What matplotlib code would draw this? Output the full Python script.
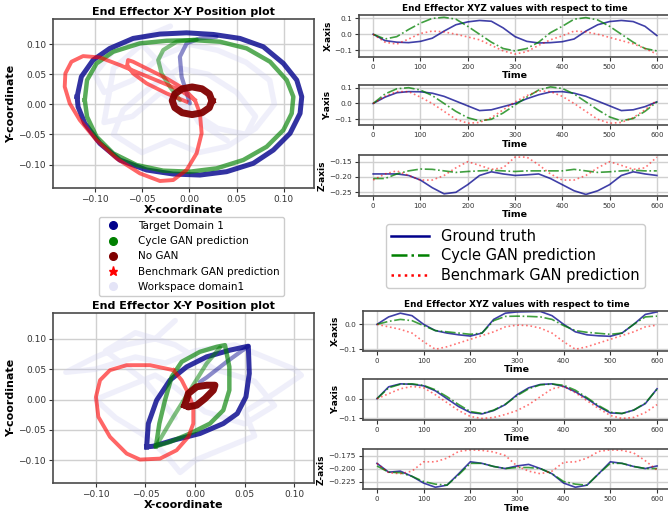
import matplotlib
matplotlib.use("Agg")
import matplotlib.pyplot as plt
from matplotlib.lines import Line2D

# ---------------- DATA ----------------
# Top-left XY (domain 1, first trajectory)
tgt1_x = [-0.1185, -0.114, -0.1016, -0.084, -0.0593, -0.031, -0.0028, 0.0254, 0.0536, 0.0783, 0.0995, 0.1136, 0.1189,
          0.1171, 0.1065, 0.0889, 0.0677, 0.0395, 0.0113, -0.0169, -0.0451, -0.0734, -0.0945, -0.1104, -0.1175, -0.1185]
tgt1_y = [0.0127, 0.046, 0.0737, 0.093, 0.1097, 0.1169, 0.119, 0.1163, 0.1097, 0.0958, 0.0681, 0.0404, 0.0127,
          -0.015, -0.0482, -0.0759, -0.098, -0.1119, -0.1175, -0.1158, -0.1091, -0.0925, -0.0648, -0.0316, -0.0039, 0.0127]
tgt1_hook_x = [0.0007, -0.0081, -0.0099, -0.0028, 0.0113, 0.0289]
tgt1_hook_y = [0.0017, 0.046, 0.0792, 0.1014, 0.1097, 0.1125]

cyc1_x = [-0.1104, -0.108, -0.098, -0.0804, -0.0522, -0.024, 0.0042, 0.0325, 0.0607, 0.0854, 0.103, 0.11, 0.1083,
          0.0995, 0.0818, 0.0571, 0.0289, 0.0007, -0.0275, -0.0557, -0.0804, -0.098, -0.108, -0.1104]
cyc1_y = [0.0072, 0.0404, 0.068, 0.0875, 0.1014, 0.1058, 0.1069, 0.1042, 0.0931, 0.0709, 0.0404, 0.0127, -0.015,
          -0.0427, -0.0704, -0.0925, -0.1064, -0.1119, -0.1102, -0.1008, -0.0814, -0.0537, -0.0205, 0.0072]
cyc1_hook_x = [-0.0099, -0.0205, -0.0293, -0.0328, -0.0275, -0.0134, 0.0078]
cyc1_hook_y = [0.0072, 0.0294, 0.0515, 0.0737, 0.0903, 0.1042, 0.108]

bench1_x = [0.006, -0.0099, -0.031, -0.0522, -0.0734, -0.0945, -0.1122, -0.1245, -0.1309, -0.1316, -0.1263, -0.1157,
            -0.0981, -0.0769, -0.0522, -0.031, -0.0169, -0.0028, 0.0078, 0.0131, 0.0113, 0.006,
            -0.0063, -0.024, -0.0452, -0.0593, -0.0646, -0.0656, -0.0593, -0.0451, -0.024, -0.0028]
bench1_y = [0.0072, 0.0238, 0.0377, 0.0515, 0.0654, 0.0781, 0.0803, 0.0709, 0.0515, 0.0294, 0.0017, -0.026,
            -0.0593, -0.0898, -0.1147, -0.1274, -0.1258, -0.1091, -0.0814, -0.0482, -0.015, 0.0072,
            0.0266, 0.0432, 0.0598, 0.0709, 0.0737, 0.0654, 0.0515, 0.0349, 0.0183, 0.0044]

nogan1_x = [0.024, 0.0212, 0.0135, 0.003, -0.0075, -0.0152, -0.018, -0.0152, -0.0075, 0.003, 0.0135, 0.0212, 0.024]
nogan1_y = [0.006, 0.0175, 0.0259, 0.029, 0.0259, 0.0175, 0.006, -0.0055, -0.0139, -0.017, -0.0139, -0.0055, 0.006]

ws1_x = [-0.02, -0.05, -0.08, -0.1, -0.09, -0.06, -0.03, 0.0, 0.03, 0.06, 0.085, 0.09, 0.07, 0.04, 0.01, -0.02, -0.05,
         -0.08, -0.07, -0.04, -0.01, 0.02, 0.05, 0.07, 0.06, 0.03, 0.0, -0.03, -0.06, -0.09, -0.08, -0.05, -0.02, 0.01, 0.04]
ws1_y = [0.13, 0.11, 0.09, 0.05, 0.02, 0.04, 0.08, 0.1, 0.09, 0.07, 0.04, 0.0, -0.04, -0.07, -0.08, -0.06, -0.08,
         -0.05, -0.01, 0.03, 0.06, 0.05, 0.02, -0.02, -0.05, -0.04, -0.01, 0.02, -0.02, -0.03, 0.06, 0.1, 0.05, -0.03, -0.06]

# Bottom-left XY (second trajectory)
tgt2_x = [-0.0487, -0.047, -0.0386, -0.0252, -0.0084, 0.0117, 0.0352, 0.0537, 0.0547, 0.0513, 0.0426, 0.0285, 0.005,
          -0.0218, -0.042, -0.0487]
tgt2_y = [-0.078, -0.0396, -0.0011, 0.0319, 0.0538, 0.0703, 0.0813, 0.0879, 0.0429, 0.0044, -0.0231, -0.0396, -0.056,
          -0.067, -0.0769, -0.078]
tgt2_diag_x = [0.0537, 0.0319, 0.0117, 0.005]
tgt2_diag_y = [0.0879, 0.0621, 0.0363, 0.029]

cyc2_x = [-0.0393, -0.0359, -0.0302, -0.0235, -0.0134, 0.005, 0.0218, 0.0302, 0.0346, 0.0346, 0.0285, 0.0151, -0.005,
          -0.0252, -0.0393]
cyc2_y = [-0.0769, -0.0396, -0.0011, 0.0374, 0.0621, 0.0786, 0.0868, 0.0896, 0.0538, 0.0154, -0.0176, -0.0396, -0.056,
          -0.0698, -0.0769]
cyc2_diag_x = [-0.0393, -0.0218, -0.005, 0.0117, 0.0252]
cyc2_diag_y = [-0.0769, -0.0286, 0.0154, 0.0593, 0.0857]

bench2_x = [-0.0218, -0.0453, -0.0688, -0.0856, -0.0956, -0.0997, -0.0973, -0.0856, -0.0688, -0.0554, -0.0352, -0.0185,
            -0.0067, -0.0017, -0.0017, -0.0067, -0.0134, -0.0218]
bench2_y = [0.0484, 0.0566, 0.0566, 0.0484, 0.0319, 0.0044, -0.0286, -0.0615, -0.089, -0.0989, -0.0973, -0.0835,
            -0.0615, -0.0396, -0.0121, 0.0099, 0.0319, 0.0484]

nogan2_x = [-0.0101, -0.0067, 0.0017, 0.0117, 0.0201, 0.0185, 0.0101, 0.0017, -0.0067, -0.0101]
nogan2_y = [-0.0093, 0.0099, 0.0209, 0.0236, 0.0236, 0.0154, 0.0016, -0.0093, -0.0121, -0.0093]

ws2_x = [-0.02, -0.04, -0.07, -0.1, -0.13, -0.1, -0.06, -0.03, 0.0, 0.04, 0.07, 0.1, 0.107, 0.08, 0.05, 0.06, 0.03, 0.0,
         -0.015, -0.03, -0.05, -0.08, -0.1, -0.07, -0.04, -0.02, 0.01, 0.05, 0.08, 0.06, 0.02, -0.02, -0.06, -0.09, -0.05, -0.02]
ws2_y = [0.13, 0.1, 0.09, 0.07, 0.045, 0.05, 0.07, 0.06, 0.08, 0.09, 0.07, 0.05, 0.04, 0.01, -0.02, -0.06, -0.08, -0.1,
         -0.12, -0.09, -0.06, -0.03, 0.0, 0.02, 0.04, 0.02, -0.02, -0.04, -0.01, 0.03, 0.05, 0.09, 0.11, 0.08, 0.03, -0.03]

# Top-right time series
t_a = [0, 25, 50, 75, 100, 125, 150, 175, 200, 225, 250, 275, 300, 325, 350, 375, 400, 425, 450, 475, 500, 525, 550, 575, 600]
gt1_X = [0.0, -0.04, -0.05, -0.053, -0.045, -0.025, 0.02, 0.06, 0.078, 0.087, 0.082, 0.04, -0.015, -0.045, -0.055,
         -0.053, -0.047, -0.03, 0.02, 0.06, 0.08, 0.087, 0.08, 0.05, -0.008]
cg1_X = [0.0, -0.03, -0.015, 0.03, 0.07, 0.1, 0.107, 0.095, 0.05, 0.0, -0.05, -0.09, -0.105, -0.09, -0.05, 0.01, 0.05,
         0.095, 0.105, 0.09, 0.05, 0.0, -0.05, -0.09, -0.105]
bg1_X = [0.0, -0.05, -0.062, -0.03, 0.005, 0.02, 0.015, 0.0, -0.017, -0.035, -0.07, -0.105, -0.125, -0.11, -0.07, -0.035,
         -0.01, 0.02, 0.015, 0.0, -0.02, -0.04, -0.06, -0.09, -0.125]
gt1_Y = [0.0, 0.04, 0.068, 0.075, 0.074, 0.065, 0.045, 0.015, -0.015, -0.045, -0.04, -0.02, 0.0, 0.03, 0.055, 0.073,
         0.075, 0.065, 0.045, 0.015, -0.015, -0.045, -0.04, -0.02, 0.01]
cg1_Y = [0.0, 0.06, 0.093, 0.1, 0.085, 0.05, 0.0, -0.05, -0.09, -0.11, -0.1, -0.06, -0.01, 0.04, 0.085, 0.105, 0.095,
         0.06, 0.01, -0.04, -0.085, -0.11, -0.095, -0.05, 0.01]
bg1_Y = [0.0, 0.045, 0.075, 0.075, 0.04, 0.0, -0.05, -0.1, -0.125, -0.12, -0.09, -0.04, 0.01, 0.05, 0.08, 0.075, 0.045,
         0.0, -0.05, -0.1, -0.125, -0.12, -0.09, -0.04, 0.02]
gt1_Z = [-0.19, -0.19, -0.19, -0.195, -0.21, -0.235, -0.255, -0.25, -0.225, -0.195, -0.183, -0.19, -0.195, -0.193,
         -0.19, -0.205, -0.225, -0.245, -0.257, -0.245, -0.225, -0.195, -0.183, -0.19, -0.195]
cg1_Z = [-0.205, -0.205, -0.19, -0.18, -0.174, -0.175, -0.18, -0.185, -0.182, -0.18, -0.178, -0.18, -0.182, -0.18,
         -0.18, -0.18, -0.18, -0.175, -0.18, -0.185, -0.183, -0.18, -0.178, -0.18, -0.18]
bg1_Z = [-0.21, -0.19, -0.18, -0.195, -0.21, -0.21, -0.195, -0.17, -0.15, -0.162, -0.175, -0.17, -0.135, -0.135,
         -0.16, -0.19, -0.21, -0.21, -0.195, -0.17, -0.15, -0.162, -0.175, -0.17, -0.135]

# Bottom-right time series
gt2_X = [0.0, 0.03, 0.045, 0.035, 0.0, -0.025, -0.035, -0.042, -0.047, -0.035, 0.02, 0.045, 0.05, 0.051, 0.052, 0.035,
         0.0, -0.03, -0.042, -0.046, -0.048, -0.035, 0.0, 0.04, 0.05]
cg2_X = [0.0, 0.012, 0.02, 0.015, -0.005, -0.025, -0.03, -0.035, -0.04, -0.035, 0.015, 0.032, 0.033, 0.032, 0.03, 0.02,
         -0.005, -0.025, -0.032, -0.036, -0.04, -0.035, 0.0, 0.03, 0.033]
bg2_X = [0.0, -0.01, -0.02, -0.035, -0.07, -0.1, -0.09, -0.075, -0.06, -0.045, -0.03, -0.01, -0.003, -0.005, -0.015,
         -0.035, -0.07, -0.1, -0.09, -0.075, -0.06, -0.045, -0.03, -0.01, -0.003]
gt2_Y = [0.0, 0.06, 0.075, 0.073, 0.065, 0.04, 0.0, -0.04, -0.07, -0.077, -0.06, -0.03, 0.02, 0.055, 0.072, 0.075,
         0.062, 0.035, 0.0, -0.04, -0.072, -0.075, -0.058, -0.025, 0.05]
cg2_Y = [0.0, 0.055, 0.073, 0.075, 0.067, 0.045, 0.01, -0.03, -0.065, -0.075, -0.058, -0.028, 0.015, 0.05, 0.07, 0.074,
         0.068, 0.043, 0.005, -0.035, -0.068, -0.075, -0.058, -0.022, 0.048]
bg2_Y = [0.0, 0.025, 0.05, 0.062, 0.055, 0.02, -0.02, -0.06, -0.09, -0.1, -0.095, -0.08, -0.06, -0.03, 0.01, 0.05,
         0.062, 0.03, -0.01, -0.05, -0.085, -0.1, -0.095, -0.07, -0.03]
gt2_Z = [-0.19, -0.207, -0.205, -0.215, -0.228, -0.236, -0.232, -0.21, -0.187, -0.19, -0.196, -0.2, -0.195, -0.192,
         -0.2, -0.21, -0.228, -0.236, -0.232, -0.21, -0.187, -0.19, -0.196, -0.2, -0.195]
cg2_Z = [-0.195, -0.207, -0.208, -0.215, -0.225, -0.23, -0.232, -0.212, -0.19, -0.19, -0.196, -0.2, -0.198, -0.198,
         -0.2, -0.21, -0.225, -0.23, -0.232, -0.21, -0.19, -0.19, -0.196, -0.2, -0.2]
bg2_Z = [-0.19, -0.208, -0.21, -0.205, -0.187, -0.187, -0.18, -0.167, -0.164, -0.165, -0.168, -0.175, -0.195, -0.205,
         -0.21, -0.205, -0.188, -0.187, -0.18, -0.167, -0.164, -0.165, -0.17, -0.185, -0.203]

legend_left_labels = ["Target Domain 1", "Cycle GAN prediction", "No GAN", "Benchmark GAN prediction", "Workspace domain1"]
legend_right_labels = ["Ground truth", "Cycle GAN prediction", "Benchmark GAN prediction"]

# ---------------- STYLE ----------------
C_BLUE = "#00008b"
C_GREEN = "#008000"
C_DRED = "#800000"
C_RED = "#ff0000"
C_WS = "#c8c8f0"
SPINE = "#4a4a4a"
GRID = "#d0d0d0"

fig = plt.figure(figsize=(6.68, 5.16), dpi=100)


def style_ax(ax, tick_fs):
    for s in ax.spines.values():
        s.set_color(SPINE)
        s.set_linewidth(1.2)
    ax.grid(True, color=GRID, linewidth=1.0)
    ax.set_axisbelow(True)
    ax.tick_params(labelsize=tick_fs, colors="#333333", length=3, width=0.8, pad=2)


def xy_panel(rect, ws, tgt, tgt_extra, cyc, cyc_extra, bench, nogan, xlim, ylim):
    ax = fig.add_axes(rect)
    style_ax(ax, 6.5)
    ax.plot(ws[0], ws[1], color=C_WS, lw=4, alpha=0.28, solid_capstyle="round", solid_joinstyle="round")
    ax.plot(tgt[0], tgt[1], color=C_BLUE, lw=3.6, alpha=0.8, solid_joinstyle="round")
    ax.plot(tgt_extra[0], tgt_extra[1], color=C_BLUE, lw=3.0, alpha=0.45, solid_capstyle="round")
    ax.plot(cyc[0], cyc[1], color=C_GREEN, lw=3.2, alpha=0.65, solid_joinstyle="round")
    ax.plot(cyc_extra[0], cyc_extra[1], color=C_GREEN, lw=3.0, alpha=0.5, solid_capstyle="round")
    ax.plot(bench[0], bench[1], color=C_RED, lw=2.8, alpha=0.6, solid_joinstyle="round")
    ax.plot(nogan[0], nogan[1], color=C_DRED, lw=5.0, alpha=0.95, solid_joinstyle="round")
    ax.set_xlim(*xlim)
    ax.set_ylim(*ylim)
    ax.set_xticks([-0.10, -0.05, 0.0, 0.05, 0.10])
    ax.set_yticks([-0.10, -0.05, 0.0, 0.05, 0.10])
    ax.set_xticklabels(["\u22120.10", "\u22120.05", "0.00", "0.05", "0.10"])
    ax.set_yticklabels(["\u22120.10", "\u22120.05", "0.00", "0.05", "0.10"])
    ax.set_title("End Effector X-Y Position plot", fontsize=8, fontweight="bold", pad=3)
    ax.set_xlabel("X-coordinate", fontsize=8, fontweight="bold", labelpad=1)
    ax.set_ylabel("Y-coordinate", fontsize=8, fontweight="bold", labelpad=2)
    return ax


xy_panel([0.0793, 0.6357, 0.391, 0.3275], (ws1_x, ws1_y), (tgt1_x, tgt1_y), (tgt1_hook_x, tgt1_hook_y),
         (cyc1_x, cyc1_y), (cyc1_hook_x, cyc1_hook_y), (bench1_x, bench1_y), (nogan1_x, nogan1_y),
         (-0.144, 0.132), (-0.139, 0.142))
xy_panel([0.0793, 0.0645, 0.391, 0.3283], (ws2_x, ws2_y), (tgt2_x, tgt2_y), (tgt2_diag_x, tgt2_diag_y),
         (cyc2_x, cyc2_y), (cyc2_diag_x, cyc2_diag_y), (bench2_x, bench2_y), (nogan2_x, nogan2_y),
         (-0.143, 0.120), (-0.137, 0.142))


def ts_panel(rect, gt, cg, bg, ylim, yticks, yticklabels, ylabel, label_x, title=None):
    ax = fig.add_axes(rect)
    style_ax(ax, 5.3)
    ax.plot(t_a, gt, color=C_BLUE, lw=1.2, alpha=0.75)
    ax.plot(t_a, cg, color=C_GREEN, lw=1.2, alpha=0.75, linestyle="-.")
    ax.plot(t_a, bg, color=C_RED, lw=1.2, alpha=0.55, linestyle=":")
    ax.set_xlim(-30, 630)
    ax.set_ylim(*ylim)
    ax.set_xticks([0, 100, 200, 300, 400, 500, 600])
    ax.set_yticks(yticks)
    ax.set_yticklabels(yticklabels)
    ax.tick_params(axis="x", labelsize=5)
    ax.set_ylabel(ylabel, fontsize=6.5, fontweight="bold")
    ax.yaxis.set_label_coords(label_x, 0.5)
    ax.set_xlabel("Time", fontsize=6.8, fontweight="bold", labelpad=1)
    if title:
        ax.set_title(title, fontsize=6.4, fontweight="bold", pad=3)
    return ax


TITLE_R = "End Effector XYZ values with respect to time"
# top-right
ts_panel([0.5374, 0.890, 0.4671, 0.0808], gt1_X, cg1_X, bg1_X, (-0.142, 0.121), [-0.1, 0.0, 0.1],
         ["\u22120.1", "0.0", "0.1"], "X-axis", -0.085, title=TITLE_R)
ts_panel([0.5374, 0.7572, 0.4671, 0.0781], gt1_Y, cg1_Y, bg1_Y, (-0.138, 0.117), [-0.1, 0.0, 0.1],
         ["\u22120.1", "0.0", "0.1"], "Y-axis", -0.085)
ts_panel([0.5374, 0.6202, 0.4671, 0.0795], gt1_Z, cg1_Z, bg1_Z, (-0.262, -0.128), [-0.25, -0.20, -0.15],
         ["\u22120.25", "\u22120.20", "\u22120.15"], "Z-axis", -0.105)
# bottom-right
ts_panel([0.5434, 0.3198, 0.4611, 0.0781], gt2_X, cg2_X, bg2_X, (-0.107, 0.055), [-0.1, 0.0],
         ["\u22120.1", "0.0"], "X-axis", -0.075, title=TITLE_R)
ts_panel([0.5434, 0.186, 0.4611, 0.0789], gt2_Y, cg2_Y, bg2_Y, (-0.108, 0.098), [-0.1, 0.0],
         ["\u22120.1", "0.0"], "Y-axis", -0.075)
ts_panel([0.5434, 0.0517, 0.4611, 0.0775], gt2_Z, cg2_Z, bg2_Z, (-0.240, -0.163), [-0.225, -0.200, -0.175],
         ["\u22120.225", "\u22120.200", "\u22120.175"], "Z-axis", -0.12)

# Legends
left_handles = [
    Line2D([], [], marker="o", color=C_BLUE, linestyle="none", markersize=5.5),
    Line2D([], [], marker="o", color=C_GREEN, linestyle="none", markersize=5.5),
    Line2D([], [], marker="o", color=C_DRED, linestyle="none", markersize=5.5),
    Line2D([], [], marker="*", color=C_RED, linestyle="none", markersize=6.5),
    Line2D([], [], marker="o", color="#e4e4f7", linestyle="none", markersize=5.5),
]
fig.legend(left_handles, legend_left_labels, loc="center", bbox_to_anchor=(0.2867, 0.503), fontsize=7.5,
           frameon=True, framealpha=1, edgecolor="#cccccc", handletextpad=1.4, labelspacing=0.5,
           borderpad=0.4, fancybox=True)

right_handles = [
    Line2D([], [], color=C_BLUE, lw=1.8),
    Line2D([], [], color=C_GREEN, lw=1.8, linestyle="-."),
    Line2D([], [], color=C_RED, lw=1.8, linestyle=":"),
]
fig.legend(right_handles, legend_right_labels, loc="center", bbox_to_anchor=(0.7717, 0.504), fontsize=10.5,
           frameon=True, framealpha=1, edgecolor="#cccccc", handlelength=2.6, handletextpad=0.8,
           labelspacing=0.3, borderpad=0.35, fancybox=True)

fig.savefig("out.png", dpi=100)
